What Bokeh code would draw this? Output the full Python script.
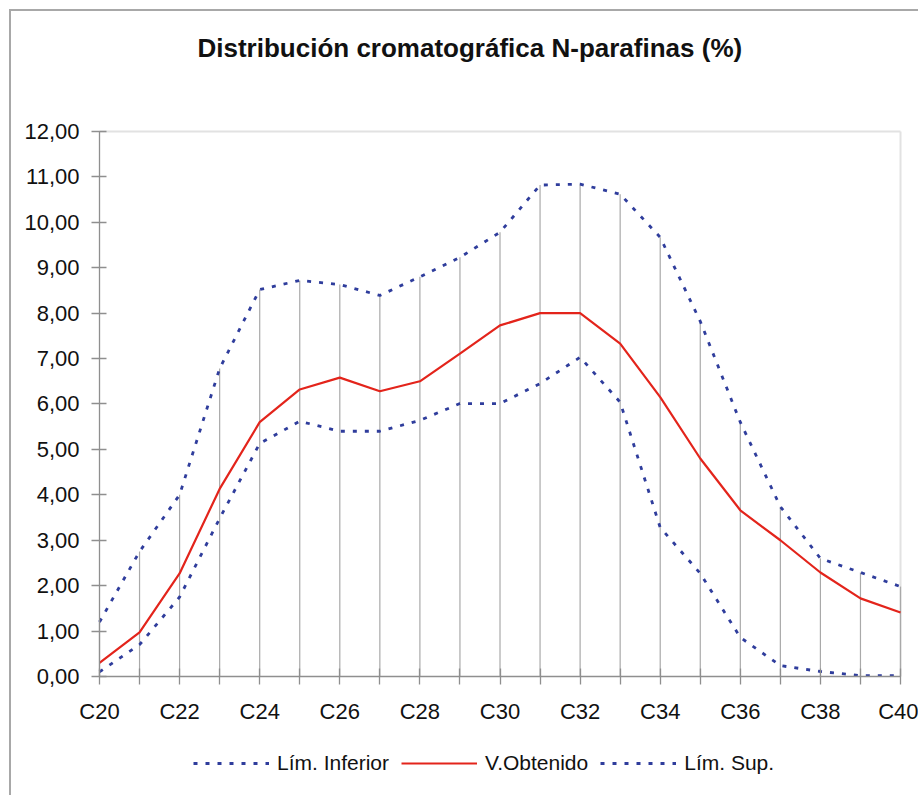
from bokeh.plotting import figure
from bokeh.models import FixedTicker, Legend, LegendItem, Title
from bokeh.embed import file_html
from bokeh.resources import INLINE

categories = ["C20", "C21", "C22", "C23", "C24", "C25", "C26", "C27", "C28", "C29", "C30",
              "C31", "C32", "C33", "C34", "C35", "C36", "C37", "C38", "C39", "C40"]
lim_inferior = [0.10, 0.70, 1.75, 3.48, 5.13, 5.62, 5.40, 5.40, 5.64, 6.01, 6.01,
                6.45, 7.03, 6.04, 3.28, 2.27, 0.86, 0.24, 0.11, 0.02, 0.02]
v_obtenido = [0.30, 0.97, 2.27, 4.13, 5.60, 6.32, 6.58, 6.28, 6.50, 7.11, 7.73,
              8.00, 8.00, 7.33, 6.15, 4.80, 3.66, 3.00, 2.29, 1.72, 1.41]
lim_sup = [1.20, 2.75, 4.00, 6.78, 8.52, 8.72, 8.63, 8.39, 8.80, 9.23, 9.78,
           10.82, 10.84, 10.62, 9.67, 7.82, 5.60, 3.74, 2.60, 2.29, 1.98]
y_ticks = list(range(0, 13))

xs = list(range(len(categories)))
FONT = "Liberation Sans, Arial, sans-serif"
BLUE = "#2f3d9c"
RED = "#e3241b"
GRAY = "#8f8f8f"
Y_MIN, Y_MAX = 0, 12
X_MIN, X_MAX = xs[0], xs[-1]

# the frame covers the whole canvas width and reaches beyond the axes, so that the
# tick labels and the legend sit inside it; the axes are fixed at x = C20 and y = 0
p = figure(frame_width=907, frame_height=677, output_backend="svg", toolbar_location=None,
           x_range=(-2.197, 20.449), y_range=(-2.62, 12.286),
           min_border_left=0, min_border_right=0, min_border_top=107, min_border_bottom=0)
p.styles = {"border-left": "2px solid #a8a8a8", "border-top": "2px solid #a8a8a8",
            "margin-left": "9px", "margin-top": "9px"}
p.background_fill_color = "white"
p.border_fill_color = "white"
p.outline_line_color = None
p.xgrid.grid_line_color = None
p.ygrid.grid_line_color = None

# light plot-area border (top and right)
p.segment(x0=[X_MIN, X_MAX], y0=[Y_MAX, Y_MIN], x1=[X_MAX, X_MAX], y1=[Y_MAX, Y_MAX],
          line_color="#e2e2e2", line_width=2)

# drop lines from axis up to the upper limit
p.segment(x0=xs, y0=[Y_MIN] * len(xs), x1=xs, y1=lim_sup, line_color="#a9a9a9", line_width=1.2)

r_inf = p.line(xs, lim_inferior, line_color=BLUE, line_width=2.8, line_dash="4 8")
r_obt = p.line(xs, v_obtenido, line_color=RED, line_width=2.2)
r_sup = p.line(xs, lim_sup, line_color=BLUE, line_width=2.8, line_dash="4 8")

# x axis, fixed at y = 0
p.xaxis.fixed_location = Y_MIN
p.xaxis.bounds = (X_MIN, X_MAX)
p.xaxis.ticker = FixedTicker(ticks=[i for i in xs if i % 2 == 0],
                             minor_ticks=[i for i in xs if i % 2 == 1])
p.xaxis.major_label_overrides = {i: c for i, c in zip(xs, categories)}
p.xaxis.major_tick_in = 8
p.xaxis.major_tick_out = 8
p.xaxis.minor_tick_in = 8
p.xaxis.minor_tick_out = 8
p.xaxis.major_label_standoff = 14

# y axis, fixed at x = C20
p.yaxis.fixed_location = X_MIN
p.yaxis.bounds = (Y_MIN, Y_MAX)
p.yaxis.ticker = FixedTicker(ticks=y_ticks, minor_ticks=[])
p.yaxis.major_label_overrides = {t: f"{t},00" for t in y_ticks}
p.yaxis.major_tick_in = 7
p.yaxis.major_tick_out = 8
p.yaxis.major_label_standoff = 12

for ax in (p.xaxis[0], p.yaxis[0]):
    ax.axis_line_color = GRAY
    ax.axis_line_width = 1.3
    ax.major_tick_line_color = GRAY
    ax.major_tick_line_width = 1.3
    ax.minor_tick_line_color = GRAY
    ax.minor_tick_line_width = 1.3
    ax.major_label_text_font = FONT
    ax.major_label_text_font_size = "22px"
    ax.major_label_text_color = "#111111"

spacer = Title(text=" ", text_font_size="10px", standoff=43)
p.add_layout(spacer, "above")
title = Title(text="Distribución cromatográfica N-parafinas (%)", align="left",
              text_font=FONT, text_font_style="bold", text_font_size="26px",
              text_color="#111111", standoff=0, offset=186)
p.add_layout(title, "above")

legend = Legend(items=[LegendItem(label="Lím. Inferior", renderers=[r_inf]),
                       LegendItem(label="V.Obtenido", renderers=[r_obt]),
                       LegendItem(label="Lím. Sup.", renderers=[r_sup])],
                orientation="horizontal", location=(182, 20),
                label_text_font=FONT, label_text_font_size="21px", label_text_color="#111111",
                glyph_width=76, glyph_height=20, spacing=12, label_standoff=8,
                border_line_color=None, background_fill_alpha=0, margin=0, padding=0)
p.add_layout(legend, "center")

open("out.html", "w").write(file_html(p, INLINE))
